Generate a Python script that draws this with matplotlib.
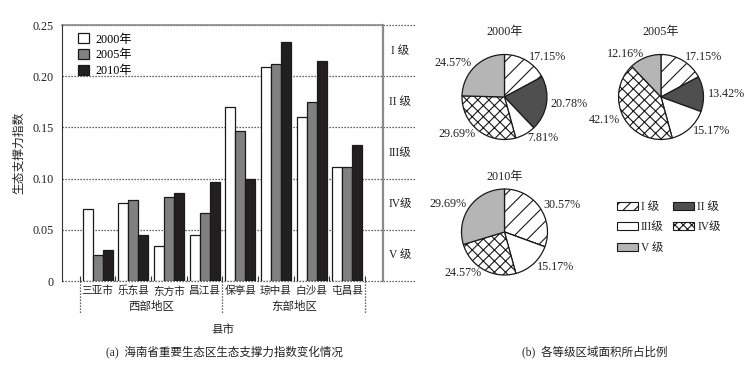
import matplotlib
matplotlib.use("Agg")
import matplotlib.pyplot as plt
from matplotlib.patches import Patch

plt.rcParams["font.family"] = ["Liberation Serif", "Noto Sans CJK SC"]
plt.rcParams["font.size"] = 8.7
plt.rcParams["hatch.linewidth"] = 0.8

# ---- data ----
counties = ["三亚市", "乐东县", "东方市", "昌江县", "保亭县", "琼中县", "白沙县", "屯昌县"]
regions = ["西部地区", "东部地区"]
years = ["2000年", "2005年", "2010年"]
index_2000 = [0.070, 0.076, 0.034, 0.045, 0.170, 0.209, 0.160, 0.111]
index_2005 = [0.025, 0.079, 0.082, 0.066, 0.146, 0.212, 0.175, 0.111]
index_2010 = [0.030, 0.045, 0.086, 0.097, 0.100, 0.233, 0.215, 0.133]
ytick_values = [0, 0.05, 0.10, 0.15, 0.20, 0.25]
ytick_labels = ["0", "0.05", "0.10", "0.15", "0.20", "0.25"]
level_names = ["I 级", "II 级", "III级", "IV级", "V 级"]
level_mid = [0.225, 0.175, 0.125, 0.075, 0.025]
share_2000 = [17.15, 20.78, 7.81, 29.69, 24.57]
share_2005 = [17.15, 13.42, 15.17, 42.1, 12.16]
share_2010 = [30.57, 0, 15.17, 24.57, 29.69]

W, H = 748, 367
TXT = "#222222"
CJK = 8.3
dot = (0, (1, 1.4))

fig = plt.figure(figsize=(W / 100, H / 100), dpi=100)

# ---- (a) bar chart ----
ax = fig.add_axes([62 / W, 1 - 281 / H, 321 / W, 256 / H])
bw = 0.28
x = list(range(len(counties)))
bar_colors = ["white", "#808080", "#231f20"]
for i, (vals, col) in enumerate(zip([index_2000, index_2005, index_2010], bar_colors)):
    ax.bar([xi + (i - 1) * bw for xi in x], vals, width=bw, color=col,
           edgecolor="#1a1a1a", linewidth=0.9, label=years[i], zorder=3)

ax.set_xlim(-1, 8)
ax.set_ylim(0, 0.25)
ax.set_yticks(ytick_values)
ax.set_yticklabels(ytick_labels, color=TXT)
ax.tick_params(axis="y", length=0, pad=6)

# boundary ticks (major) and county labels (minor)
ax.set_xticks([v - 0.5 for v in range(len(counties) + 1)])
ax.set_xticklabels([])
ax.tick_params(axis="x", which="major", direction="in", length=3.5, width=0.8, color="#333")
ax.set_xticks(x, minor=True)
ax.set_xticklabels(counties, minor=True, color=TXT, fontsize=7.7)
ax.tick_params(axis="x", which="minor", length=0, pad=3.5)

for s in ["top", "right", "bottom"]:
    ax.spines[s].set_visible(False)
ax.spines["left"].set_color("#333")

# dotted grid lines extending beyond the plot
for yv in ytick_values:
    ax.axhline(yv, xmin=0, xmax=1.1, color="#333", linestyle=dot, linewidth=0.9, clip_on=False, zorder=1)
ax.plot([-1, 8], [0.25, 0.25], color="#8a8a8a", linewidth=1.2, clip_on=False, zorder=2)
ax.plot([8, 8], [0, 0.25], color="#8a8a8a", linewidth=1.6, clip_on=False, zorder=2)

for name, yv in zip(level_names, level_mid):
    ax.text(1.053, yv, name, transform=ax.get_yaxis_transform(), ha="center", va="center",
            color=TXT, fontsize=CJK)

# region separators and region names
sep_trans = ax.get_xaxis_transform()
for xv in [-0.5, 3.5, 7.5]:
    ax.plot([xv, xv], [0, -0.125], transform=sep_trans, color="#333", linestyle=dot,
            linewidth=0.9, clip_on=False)
ax.text(1.5, -0.1, regions[0], transform=sep_trans, ha="center", va="center", color=TXT, fontsize=CJK)
ax.text(5.5, -0.1, regions[1], transform=sep_trans, ha="center", va="center", color=TXT, fontsize=CJK)

ax.set_xlabel("县市", color=TXT, labelpad=20, fontsize=CJK)
ax.set_ylabel("生态支撑力指数", color=TXT, labelpad=5, fontsize=8.5)

ax.legend(loc="upper left", bbox_to_anchor=(0.025, 1.0), frameon=False,
          handlelength=0.9, handleheight=0.9, handletextpad=0.5, labelspacing=0.3,
          borderaxespad=0.3)

fig.text(224 / W, 1 - 352 / H, "(a)  海南省重要生态区生态支撑力指数变化情况",
         ha="center", va="center", color=TXT, fontsize=8.3)

# ---- (b) pie charts ----
pie_colors = ["white", "#4f4f4f", "white", "white", "#b5b5b5"]
pie_hatches = ["//", "", "", "xxx", ""]


def draw_pie(cx, cy, r, shares, title, title_y):
    pax = fig.add_axes([(cx - r) / W, 1 - (cy + r) / H, 2 * r / W, 2 * r / H])
    labels = [f"{v:g}%" if v > 0 else "" for v in shares]
    wedges, texts = pax.pie(shares, labels=labels, colors=pie_colors, startangle=90,
                            counterclock=False, labeldistance=1.1,
                            wedgeprops=dict(edgecolor="#1a1a1a", linewidth=0.9),
                            textprops=dict(color=TXT))
    for w, h in zip(wedges, pie_hatches):
        w.set_hatch(h)
    pax.set_xlim(-1, 1)
    pax.set_ylim(-1, 1)
    pax.text(0, title_y, title, ha="center", va="center", color=TXT)
    return pax


draw_pie(504.5, 97, 42.5, share_2000, years[0], 1.53)
draw_pie(661, 97, 42.5, share_2005, years[1], 1.53)
draw_pie(504.5, 232, 43, share_2010, years[2], 1.29)

handles = [Patch(facecolor=c, edgecolor="#1a1a1a", hatch=h + h[:1], linewidth=0.8)
           if h else Patch(facecolor=c, edgecolor="#1a1a1a", linewidth=0.8)
           for c, h in zip(pie_colors, pie_hatches)]
order = [0, 2, 4, 1, 3]
fig.legend([handles[i] for i in order], [level_names[i] for i in order],
           loc="upper left", bbox_to_anchor=(611 / W, 1 - 195 / H), ncol=2, frameon=False,
           handlelength=1.8, handleheight=0.7, handletextpad=0.3, labelspacing=0.75,
           columnspacing=0.8, borderpad=0, labelcolor=TXT, prop={"size": CJK})

fig.text(595 / W, 1 - 352 / H, "(b)  各等级区域面积所占比例", ha="center", va="center",
         color=TXT, fontsize=8.3)

fig.savefig("out.png", dpi=100)
